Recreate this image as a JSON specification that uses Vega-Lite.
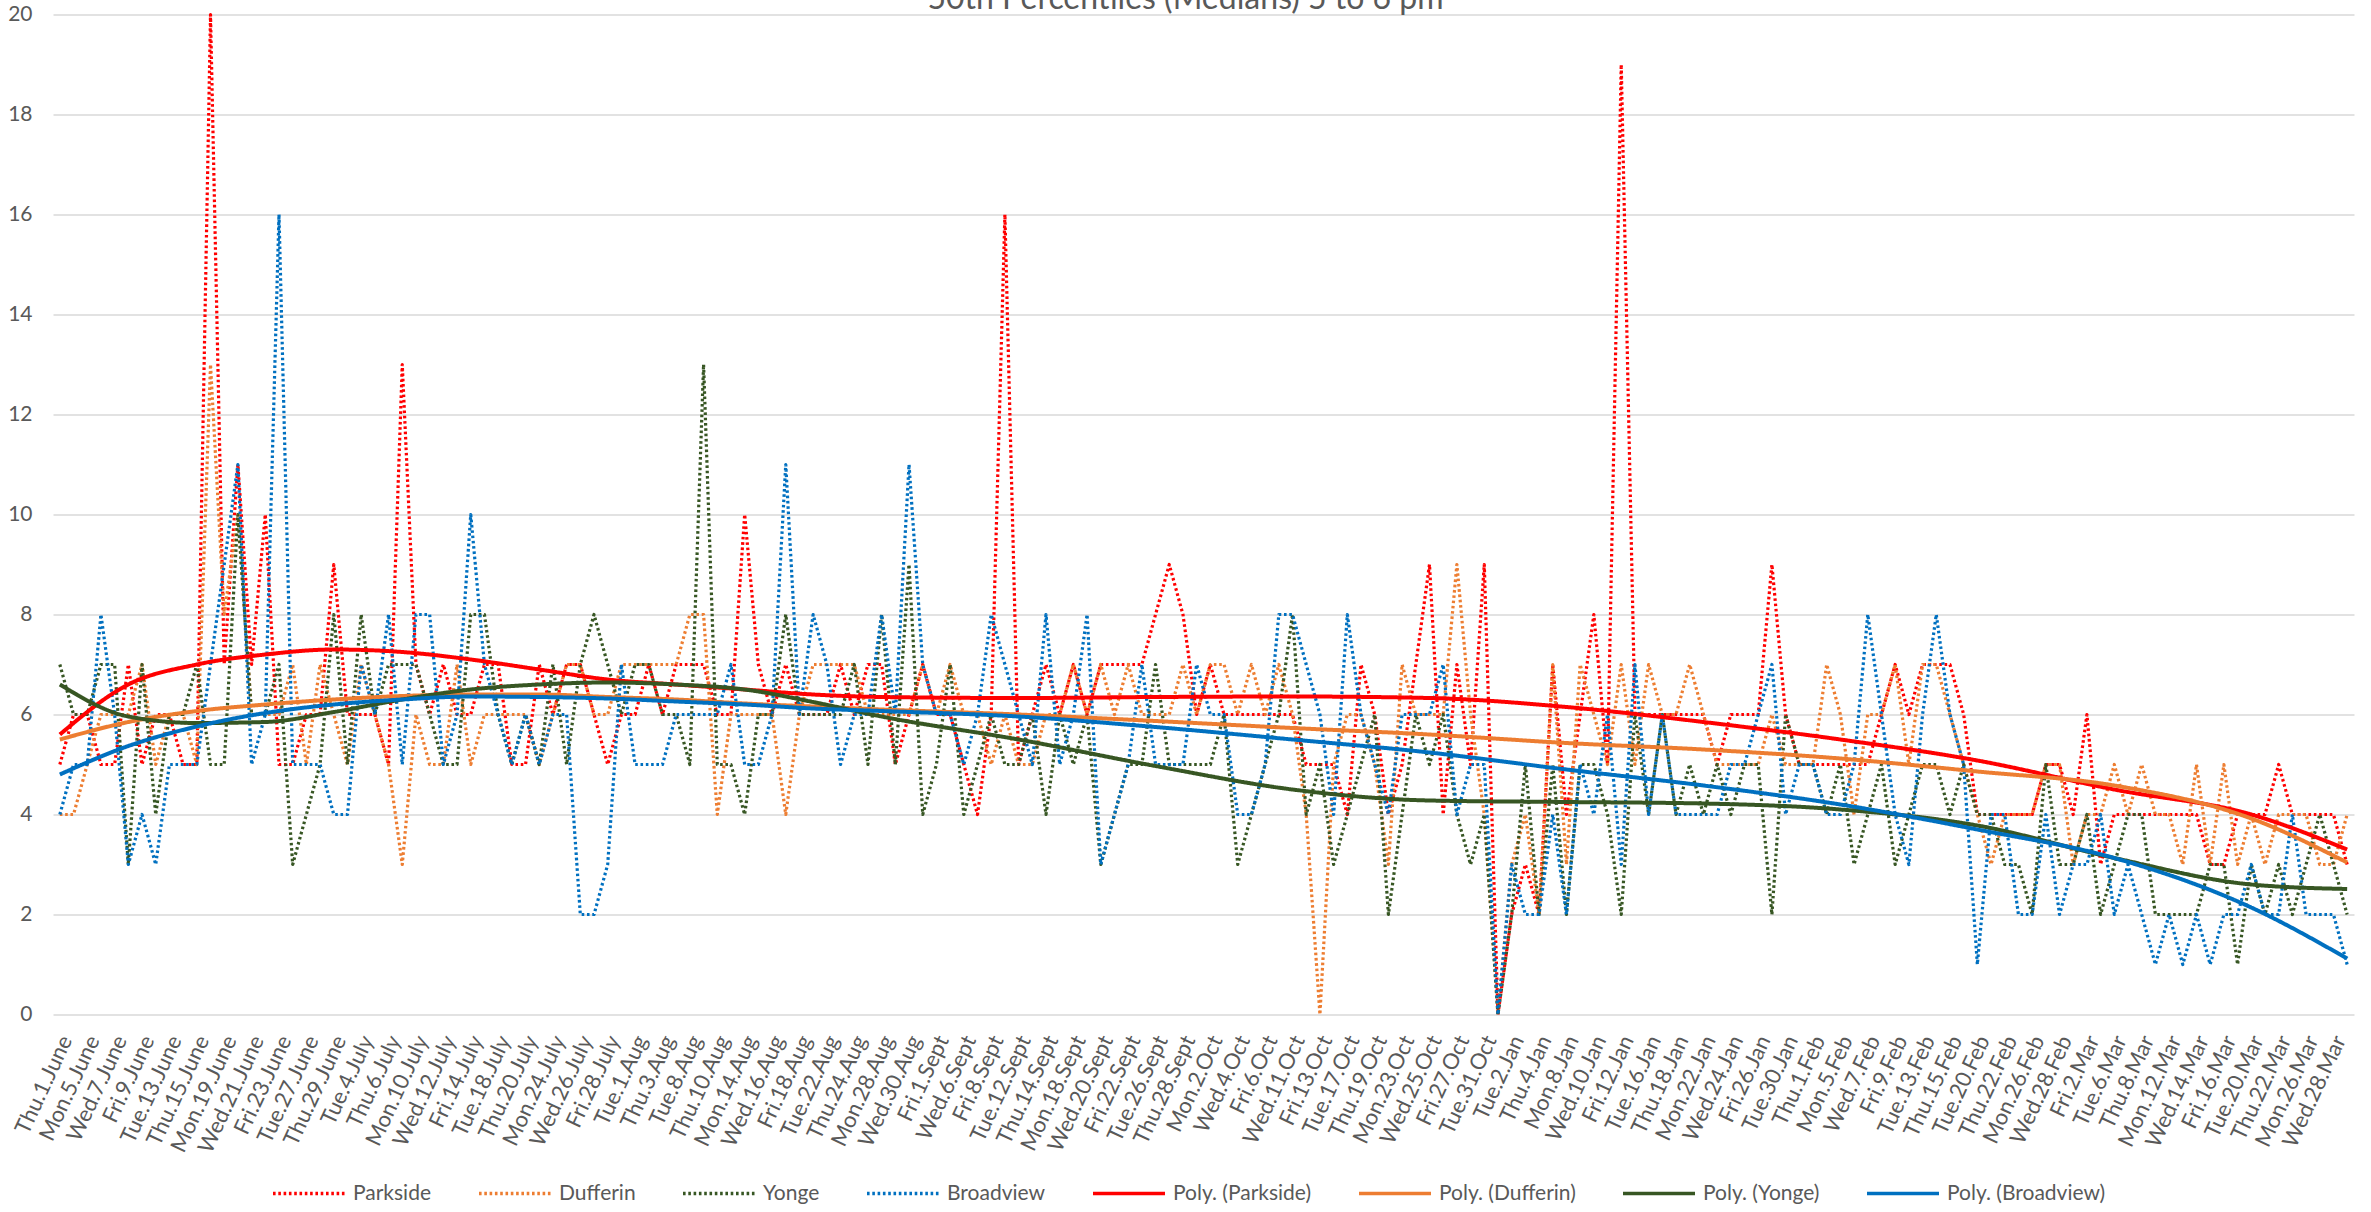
{
  "$schema": "https://vega.github.io/schema/vega-lite/v6.json",
  "width": 2301,
  "height": 1000,
  "autosize": {"type": "none"},
  "padding": {"left": 53, "top": 14.5, "right": 17, "bottom": 197.5},
  "title": {"text": "50th Percentiles (Medians) 5 to 6 pm", "fontSize": 32, "font": "Lato", "fontWeight": "normal", "color": "#595959", "offset": -12, "dx": -18},
  "config": {"view": {"stroke": null}, "font": "Lato"},
  "data": {"values": [
    {"d":"Thu.1.June","Parkside":5,"Dufferin":4,"Yonge":7,"Broadview":4,"tP":5.6,"tD":5.5,"tY":6.6,"tB":4.8},
    {"d":"Fri.2.June","Parkside":6,"Dufferin":4,"Yonge":6,"Broadview":5},
    {"d":"Mon.5.June","Parkside":6,"Dufferin":5,"Yonge":6,"Broadview":5},
    {"d":"Tue.6.June","Parkside":5,"Dufferin":6,"Yonge":7,"Broadview":8},
    {"d":"Wed.7.June","Parkside":5,"Dufferin":6,"Yonge":7,"Broadview":6},
    {"d":"Thu.8.June","Parkside":7,"Dufferin":6,"Yonge":3,"Broadview":3,"tP":6.6,"tD":5.85,"tY":5.96,"tB":5.37},
    {"d":"Fri.9.June","Parkside":5,"Dufferin":7,"Yonge":7,"Broadview":4},
    {"d":"Mon.12.June","Parkside":6,"Dufferin":5,"Yonge":4,"Broadview":3},
    {"d":"Tue.13.June","Parkside":6,"Dufferin":6,"Yonge":6,"Broadview":5},
    {"d":"Wed.14.June","Parkside":5,"Dufferin":6,"Yonge":6,"Broadview":5},
    {"d":"Thu.15.June","Parkside":5,"Dufferin":5,"Yonge":7,"Broadview":5,"tP":7.0,"tD":6.07,"tY":5.83,"tB":5.76},
    {"d":"Fri.16.June","Parkside":20,"Dufferin":13,"Yonge":5,"Broadview":7},
    {"d":"Mon.19.June","Parkside":7,"Dufferin":8,"Yonge":5,"Broadview":9},
    {"d":"Tue.20.June","Parkside":11,"Dufferin":10,"Yonge":10,"Broadview":11},
    {"d":"Wed.21.June","Parkside":7,"Dufferin":6,"Yonge":6,"Broadview":5},
    {"d":"Thu.22.June","Parkside":10,"Dufferin":6,"Yonge":6,"Broadview":6,"tP":7.2,"tD":6.2,"tY":5.85,"tB":6.03},
    {"d":"Fri.23.June","Parkside":5,"Dufferin":6,"Yonge":7,"Broadview":16},
    {"d":"Mon.26.June","Parkside":5,"Dufferin":7,"Yonge":3,"Broadview":5},
    {"d":"Tue.27.June","Parkside":6,"Dufferin":5,"Yonge":4,"Broadview":5},
    {"d":"Wed.28.June","Parkside":6,"Dufferin":7,"Yonge":5,"Broadview":5},
    {"d":"Thu.29.June","Parkside":9,"Dufferin":6,"Yonge":8,"Broadview":4,"tP":7.3,"tD":6.3,"tY":6.05,"tB":6.2},
    {"d":"Fri.30.June","Parkside":6,"Dufferin":5,"Yonge":5,"Broadview":4},
    {"d":"Tue.4.July","Parkside":6,"Dufferin":7,"Yonge":8,"Broadview":7},
    {"d":"Wed.5.July","Parkside":6,"Dufferin":6,"Yonge":6,"Broadview":6},
    {"d":"Thu.6.July","Parkside":5,"Dufferin":5,"Yonge":7,"Broadview":8},
    {"d":"Fri.7.July","Parkside":13,"Dufferin":3,"Yonge":7,"Broadview":5,"tP":7.25,"tD":6.37,"tY":6.3,"tB":6.3},
    {"d":"Mon.10.July","Parkside":7,"Dufferin":6,"Yonge":7,"Broadview":8},
    {"d":"Tue.11.July","Parkside":6,"Dufferin":5,"Yonge":6,"Broadview":8},
    {"d":"Wed.12.July","Parkside":7,"Dufferin":5,"Yonge":5,"Broadview":5},
    {"d":"Thu.13.July","Parkside":6,"Dufferin":7,"Yonge":5,"Broadview":6},
    {"d":"Fri.14.July","Parkside":6,"Dufferin":5,"Yonge":8,"Broadview":10,"tP":7.1,"tD":6.4,"tY":6.5,"tB":6.36},
    {"d":"Mon.17.July","Parkside":7,"Dufferin":6,"Yonge":8,"Broadview":7},
    {"d":"Tue.18.July","Parkside":7,"Dufferin":6,"Yonge":6,"Broadview":6},
    {"d":"Wed.19.July","Parkside":5,"Dufferin":6,"Yonge":5,"Broadview":5},
    {"d":"Thu.20.July","Parkside":5,"Dufferin":6,"Yonge":6,"Broadview":6},
    {"d":"Fri.21.July","Parkside":7,"Dufferin":5,"Yonge":5,"Broadview":5,"tP":6.9,"tD":6.4,"tY":6.6,"tB":6.35},
    {"d":"Mon.24.July","Parkside":6,"Dufferin":6,"Yonge":7,"Broadview":6},
    {"d":"Tue.25.July","Parkside":7,"Dufferin":7,"Yonge":5,"Broadview":6},
    {"d":"Wed.26.July","Parkside":7,"Dufferin":7,"Yonge":7,"Broadview":2},
    {"d":"Thu.27.July","Parkside":6,"Dufferin":6,"Yonge":8,"Broadview":2},
    {"d":"Fri.28.July","Parkside":5,"Dufferin":6,"Yonge":7,"Broadview":3,"tP":6.7,"tD":6.35,"tY":6.64,"tB":6.32},
    {"d":"Mon.31.July","Parkside":6,"Dufferin":7,"Yonge":6,"Broadview":7},
    {"d":"Tue.1.Aug","Parkside":6,"Dufferin":7,"Yonge":7,"Broadview":5},
    {"d":"Wed.2.Aug","Parkside":7,"Dufferin":7,"Yonge":7,"Broadview":5},
    {"d":"Thu.3.Aug","Parkside":6,"Dufferin":7,"Yonge":6,"Broadview":5},
    {"d":"Fri.4.Aug","Parkside":7,"Dufferin":7,"Yonge":6,"Broadview":6,"tP":6.6,"tD":6.3,"tY":6.6,"tB":6.26},
    {"d":"Tue.8.Aug","Parkside":7,"Dufferin":8,"Yonge":5,"Broadview":6},
    {"d":"Wed.9.Aug","Parkside":7,"Dufferin":8,"Yonge":13,"Broadview":6},
    {"d":"Thu.10.Aug","Parkside":6,"Dufferin":4,"Yonge":5,"Broadview":6},
    {"d":"Fri.11.Aug","Parkside":6,"Dufferin":6,"Yonge":5,"Broadview":7},
    {"d":"Mon.14.Aug","Parkside":10,"Dufferin":6,"Yonge":4,"Broadview":5,"tP":6.5,"tD":6.22,"tY":6.5,"tB":6.2},
    {"d":"Tue.15.Aug","Parkside":7,"Dufferin":6,"Yonge":6,"Broadview":5},
    {"d":"Wed.16.Aug","Parkside":6,"Dufferin":6,"Yonge":6,"Broadview":6},
    {"d":"Thu.17.Aug","Parkside":7,"Dufferin":4,"Yonge":8,"Broadview":11},
    {"d":"Fri.18.Aug","Parkside":6,"Dufferin":6,"Yonge":6,"Broadview":6},
    {"d":"Mon.21.Aug","Parkside":6,"Dufferin":7,"Yonge":6,"Broadview":8,"tP":6.4,"tD":6.16,"tY":6.25,"tB":6.12},
    {"d":"Tue.22.Aug","Parkside":6,"Dufferin":7,"Yonge":6,"Broadview":7},
    {"d":"Wed.23.Aug","Parkside":7,"Dufferin":7,"Yonge":6,"Broadview":5},
    {"d":"Thu.24.Aug","Parkside":6,"Dufferin":7,"Yonge":7,"Broadview":6},
    {"d":"Fri.25.Aug","Parkside":7,"Dufferin":6,"Yonge":5,"Broadview":6},
    {"d":"Mon.28.Aug","Parkside":7,"Dufferin":6,"Yonge":8,"Broadview":8,"tP":6.35,"tD":6.1,"tY":5.96,"tB":6.07},
    {"d":"Tue.29.Aug","Parkside":5,"Dufferin":6,"Yonge":5,"Broadview":6},
    {"d":"Wed.30.Aug","Parkside":6,"Dufferin":6,"Yonge":9,"Broadview":11},
    {"d":"Thu.31.Aug","Parkside":7,"Dufferin":7,"Yonge":4,"Broadview":7},
    {"d":"Fri.1.Sept","Parkside":6,"Dufferin":6,"Yonge":5,"Broadview":6},
    {"d":"Tue.5.Sept","Parkside":6,"Dufferin":7,"Yonge":7,"Broadview":6},
    {"d":"Wed.6.Sept","Parkside":5,"Dufferin":6,"Yonge":4,"Broadview":5},
    {"d":"Thu.7.Sept","Parkside":4,"Dufferin":6,"Yonge":5,"Broadview":6},
    {"d":"Fri.8.Sept","Parkside":6,"Dufferin":5,"Yonge":6,"Broadview":8},
    {"d":"Mon.11.Sept","Parkside":16,"Dufferin":6,"Yonge":5,"Broadview":7},
    {"d":"Tue.12.Sept","Parkside":5,"Dufferin":5,"Yonge":5,"Broadview":6,"tP":6.33,"tD":6.0,"tY":5.5,"tB":5.96},
    {"d":"Wed.13.Sept","Parkside":6,"Dufferin":5,"Yonge":6,"Broadview":5},
    {"d":"Thu.14.Sept","Parkside":7,"Dufferin":6,"Yonge":4,"Broadview":8},
    {"d":"Fri.15.Sept","Parkside":6,"Dufferin":6,"Yonge":6,"Broadview":5},
    {"d":"Mon.18.Sept","Parkside":7,"Dufferin":7,"Yonge":5,"Broadview":6},
    {"d":"Tue.19.Sept","Parkside":6,"Dufferin":6,"Yonge":6,"Broadview":8},
    {"d":"Wed.20.Sept","Parkside":7,"Dufferin":7,"Yonge":3,"Broadview":3},
    {"d":"Thu.21.Sept","Parkside":7,"Dufferin":6,"Yonge":4,"Broadview":4},
    {"d":"Fri.22.Sept","Parkside":7,"Dufferin":7,"Yonge":5,"Broadview":5},
    {"d":"Mon.25.Sept","Parkside":7,"Dufferin":6,"Yonge":5,"Broadview":7},
    {"d":"Tue.26.Sept","Parkside":8,"Dufferin":6,"Yonge":7,"Broadview":5,"tP":6.35,"tD":5.87,"tY":4.97,"tB":5.75},
    {"d":"Wed.27.Sept","Parkside":9,"Dufferin":6,"Yonge":5,"Broadview":5},
    {"d":"Thu.28.Sept","Parkside":8,"Dufferin":7,"Yonge":5,"Broadview":5},
    {"d":"Fri.29.Sept","Parkside":6,"Dufferin":6,"Yonge":5,"Broadview":7},
    {"d":"Mon.2.Oct","Parkside":7,"Dufferin":7,"Yonge":5,"Broadview":6},
    {"d":"Tue.3.Oct","Parkside":6,"Dufferin":7,"Yonge":6,"Broadview":6},
    {"d":"Wed.4.Oct","Parkside":6,"Dufferin":6,"Yonge":3,"Broadview":4},
    {"d":"Thu.5.Oct","Parkside":6,"Dufferin":7,"Yonge":4,"Broadview":4},
    {"d":"Fri.6.Oct","Parkside":6,"Dufferin":6,"Yonge":5,"Broadview":5},
    {"d":"Tue.10.Oct","Parkside":6,"Dufferin":7,"Yonge":6,"Broadview":8},
    {"d":"Wed.11.Oct","Parkside":6,"Dufferin":6,"Yonge":8,"Broadview":8,"tP":6.36,"tD":5.73,"tY":4.5,"tB":5.5},
    {"d":"Thu.12.Oct","Parkside":5,"Dufferin":4,"Yonge":4,"Broadview":7},
    {"d":"Fri.13.Oct","Parkside":5,"Dufferin":0,"Yonge":5,"Broadview":6},
    {"d":"Mon.16.Oct","Parkside":5,"Dufferin":5,"Yonge":3,"Broadview":4},
    {"d":"Tue.17.Oct","Parkside":4,"Dufferin":6,"Yonge":4,"Broadview":8},
    {"d":"Wed.18.Oct","Parkside":7,"Dufferin":6,"Yonge":5,"Broadview":6},
    {"d":"Thu.19.Oct","Parkside":6,"Dufferin":5,"Yonge":6,"Broadview":5},
    {"d":"Fri.20.Oct","Parkside":4,"Dufferin":3,"Yonge":2,"Broadview":4},
    {"d":"Mon.23.Oct","Parkside":5,"Dufferin":7,"Yonge":4,"Broadview":6},
    {"d":"Tue.24.Oct","Parkside":7,"Dufferin":6,"Yonge":6,"Broadview":6},
    {"d":"Wed.25.Oct","Parkside":9,"Dufferin":6,"Yonge":5,"Broadview":6,"tP":6.33,"tD":5.6,"tY":4.28,"tB":5.24},
    {"d":"Thu.26.Oct","Parkside":4,"Dufferin":6,"Yonge":6,"Broadview":7},
    {"d":"Fri.27.Oct","Parkside":7,"Dufferin":9,"Yonge":4,"Broadview":4},
    {"d":"Mon.30.Oct","Parkside":5,"Dufferin":6,"Yonge":3,"Broadview":5},
    {"d":"Tue.31.Oct","Parkside":9,"Dufferin":4,"Yonge":4,"Broadview":5},
    {"d":"Mon.1.Jan","Parkside":0,"Dufferin":0,"Yonge":0,"Broadview":0},
    {"d":"Tue.2.Jan","Parkside":2,"Dufferin":3,"Yonge":2,"Broadview":3},
    {"d":"Wed.3.Jan","Parkside":3,"Dufferin":4,"Yonge":5,"Broadview":2},
    {"d":"Thu.4.Jan","Parkside":2,"Dufferin":2,"Yonge":2,"Broadview":2},
    {"d":"Fri.5.Jan","Parkside":7,"Dufferin":7,"Yonge":5,"Broadview":4},
    {"d":"Mon.8.Jan","Parkside":4,"Dufferin":3,"Yonge":2,"Broadview":2,"tP":6.15,"tD":5.43,"tY":4.25,"tB":4.9},
    {"d":"Tue.9.Jan","Parkside":6,"Dufferin":7,"Yonge":5,"Broadview":5},
    {"d":"Wed.10.Jan","Parkside":8,"Dufferin":6,"Yonge":5,"Broadview":4},
    {"d":"Thu.11.Jan","Parkside":5,"Dufferin":5,"Yonge":4,"Broadview":6},
    {"d":"Fri.12.Jan","Parkside":19,"Dufferin":7,"Yonge":2,"Broadview":3},
    {"d":"Mon.15.Jan","Parkside":6,"Dufferin":5,"Yonge":6,"Broadview":7},
    {"d":"Tue.16.Jan","Parkside":6,"Dufferin":7,"Yonge":4,"Broadview":4},
    {"d":"Wed.17.Jan","Parkside":6,"Dufferin":6,"Yonge":6,"Broadview":6},
    {"d":"Thu.18.Jan","Parkside":6,"Dufferin":6,"Yonge":4,"Broadview":4},
    {"d":"Fri.19.Jan","Parkside":6,"Dufferin":7,"Yonge":5,"Broadview":4},
    {"d":"Mon.22.Jan","Parkside":6,"Dufferin":6,"Yonge":4,"Broadview":4,"tP":5.85,"tD":5.3,"tY":4.22,"tB":4.58},
    {"d":"Tue.23.Jan","Parkside":5,"Dufferin":5,"Yonge":5,"Broadview":4},
    {"d":"Wed.24.Jan","Parkside":6,"Dufferin":5,"Yonge":4,"Broadview":5},
    {"d":"Thu.25.Jan","Parkside":6,"Dufferin":5,"Yonge":5,"Broadview":5},
    {"d":"Fri.26.Jan","Parkside":6,"Dufferin":5,"Yonge":5,"Broadview":6},
    {"d":"Mon.29.Jan","Parkside":9,"Dufferin":6,"Yonge":2,"Broadview":7},
    {"d":"Tue.30.Jan","Parkside":6,"Dufferin":5,"Yonge":6,"Broadview":4},
    {"d":"Wed.31.Jan","Parkside":5,"Dufferin":5,"Yonge":5,"Broadview":5},
    {"d":"Thu.1.Feb","Parkside":5,"Dufferin":5,"Yonge":5,"Broadview":5},
    {"d":"Fri.2.Feb","Parkside":5,"Dufferin":7,"Yonge":4,"Broadview":4},
    {"d":"Mon.5.Feb","Parkside":5,"Dufferin":6,"Yonge":5,"Broadview":4,"tP":5.5,"tD":5.12,"tY":4.1,"tB":4.2},
    {"d":"Tue.6.Feb","Parkside":5,"Dufferin":4,"Yonge":3,"Broadview":5},
    {"d":"Wed.7.Feb","Parkside":5,"Dufferin":6,"Yonge":4,"Broadview":8},
    {"d":"Thu.8.Feb","Parkside":6,"Dufferin":6,"Yonge":5,"Broadview":6},
    {"d":"Fri.9.Feb","Parkside":7,"Dufferin":7,"Yonge":3,"Broadview":4},
    {"d":"Mon.12.Feb","Parkside":6,"Dufferin":5,"Yonge":4,"Broadview":3},
    {"d":"Tue.13.Feb","Parkside":7,"Dufferin":7,"Yonge":5,"Broadview":6},
    {"d":"Wed.14.Feb","Parkside":7,"Dufferin":7,"Yonge":5,"Broadview":8},
    {"d":"Thu.15.Feb","Parkside":7,"Dufferin":6,"Yonge":4,"Broadview":6},
    {"d":"Fri.16.Feb","Parkside":6,"Dufferin":5,"Yonge":5,"Broadview":5},
    {"d":"Tue.20.Feb","Parkside":4,"Dufferin":4,"Yonge":4,"Broadview":1,"tP":5.08,"tD":4.86,"tY":3.78,"tB":3.7},
    {"d":"Wed.21.Feb","Parkside":4,"Dufferin":3,"Yonge":4,"Broadview":4},
    {"d":"Thu.22.Feb","Parkside":4,"Dufferin":4,"Yonge":3,"Broadview":4},
    {"d":"Fri.23.Feb","Parkside":4,"Dufferin":4,"Yonge":3,"Broadview":2},
    {"d":"Mon.26.Feb","Parkside":4,"Dufferin":4,"Yonge":2,"Broadview":2},
    {"d":"Tue.27.Feb","Parkside":5,"Dufferin":5,"Yonge":5,"Broadview":4},
    {"d":"Wed.28.Feb","Parkside":5,"Dufferin":5,"Yonge":3,"Broadview":2},
    {"d":"Thu.1.Mar","Parkside":4,"Dufferin":3,"Yonge":3,"Broadview":3},
    {"d":"Fri.2.Mar","Parkside":6,"Dufferin":4,"Yonge":4,"Broadview":3},
    {"d":"Mon.5.Mar","Parkside":3,"Dufferin":4,"Yonge":2,"Broadview":4},
    {"d":"Tue.6.Mar","Parkside":4,"Dufferin":5,"Yonge":3,"Broadview":2,"tP":4.5,"tD":4.58,"tY":3.13,"tB":3.13},
    {"d":"Wed.7.Mar","Parkside":4,"Dufferin":4,"Yonge":4,"Broadview":3},
    {"d":"Thu.8.Mar","Parkside":4,"Dufferin":5,"Yonge":4,"Broadview":2},
    {"d":"Fri.9.Mar","Parkside":4,"Dufferin":4,"Yonge":2,"Broadview":1},
    {"d":"Mon.12.Mar","Parkside":4,"Dufferin":4,"Yonge":2,"Broadview":2},
    {"d":"Tue.13.Mar","Parkside":4,"Dufferin":3,"Yonge":2,"Broadview":1},
    {"d":"Wed.14.Mar","Parkside":4,"Dufferin":5,"Yonge":2,"Broadview":2},
    {"d":"Thu.15.Mar","Parkside":3,"Dufferin":3,"Yonge":3,"Broadview":1},
    {"d":"Fri.16.Mar","Parkside":3,"Dufferin":5,"Yonge":3,"Broadview":2},
    {"d":"Mon.19.Mar","Parkside":4,"Dufferin":3,"Yonge":1,"Broadview":2},
    {"d":"Tue.20.Mar","Parkside":4,"Dufferin":4,"Yonge":3,"Broadview":3,"tP":4.0,"tD":3.92,"tY":2.6,"tB":2.14},
    {"d":"Wed.21.Mar","Parkside":4,"Dufferin":3,"Yonge":2,"Broadview":2},
    {"d":"Thu.22.Mar","Parkside":5,"Dufferin":4,"Yonge":3,"Broadview":2},
    {"d":"Fri.23.Mar","Parkside":4,"Dufferin":4,"Yonge":2,"Broadview":4},
    {"d":"Mon.26.Mar","Parkside":4,"Dufferin":4,"Yonge":3,"Broadview":2},
    {"d":"Tue.27.Mar","Parkside":4,"Dufferin":3,"Yonge":4,"Broadview":2},
    {"d":"Wed.28.Mar","Parkside":4,"Dufferin":3,"Yonge":3,"Broadview":2},
    {"d":"Thu.29.Mar","Parkside":3,"Dufferin":4,"Yonge":2,"Broadview":1,"tP":3.3,"tD":3.04,"tY":2.51,"tB":1.12}
  ]},
  "transform": [
    {"fold": ["Parkside", "Dufferin", "Yonge", "Broadview", "tP", "tD", "tY", "tB"], "as": ["s", "v"]},
    {"filter": "isValid(datum.v)"}
  ],
  "encoding": {
    "x": {
      "field": "d", "type": "ordinal", "sort": null, "title": null,
      "scale": {"type": "point", "padding": 0.5, "domain": ["Thu.1.June","Fri.2.June","Mon.5.June","Tue.6.June","Wed.7.June","Thu.8.June","Fri.9.June","Mon.12.June","Tue.13.June","Wed.14.June","Thu.15.June","Fri.16.June","Mon.19.June","Tue.20.June","Wed.21.June","Thu.22.June","Fri.23.June","Mon.26.June","Tue.27.June","Wed.28.June","Thu.29.June","Fri.30.June","Tue.4.July","Wed.5.July","Thu.6.July","Fri.7.July","Mon.10.July","Tue.11.July","Wed.12.July","Thu.13.July","Fri.14.July","Mon.17.July","Tue.18.July","Wed.19.July","Thu.20.July","Fri.21.July","Mon.24.July","Tue.25.July","Wed.26.July","Thu.27.July","Fri.28.July","Mon.31.July","Tue.1.Aug","Wed.2.Aug","Thu.3.Aug","Fri.4.Aug","Tue.8.Aug","Wed.9.Aug","Thu.10.Aug","Fri.11.Aug","Mon.14.Aug","Tue.15.Aug","Wed.16.Aug","Thu.17.Aug","Fri.18.Aug","Mon.21.Aug","Tue.22.Aug","Wed.23.Aug","Thu.24.Aug","Fri.25.Aug","Mon.28.Aug","Tue.29.Aug","Wed.30.Aug","Thu.31.Aug","Fri.1.Sept","Tue.5.Sept","Wed.6.Sept","Thu.7.Sept","Fri.8.Sept","Mon.11.Sept","Tue.12.Sept","Wed.13.Sept","Thu.14.Sept","Fri.15.Sept","Mon.18.Sept","Tue.19.Sept","Wed.20.Sept","Thu.21.Sept","Fri.22.Sept","Mon.25.Sept","Tue.26.Sept","Wed.27.Sept","Thu.28.Sept","Fri.29.Sept","Mon.2.Oct","Tue.3.Oct","Wed.4.Oct","Thu.5.Oct","Fri.6.Oct","Tue.10.Oct","Wed.11.Oct","Thu.12.Oct","Fri.13.Oct","Mon.16.Oct","Tue.17.Oct","Wed.18.Oct","Thu.19.Oct","Fri.20.Oct","Mon.23.Oct","Tue.24.Oct","Wed.25.Oct","Thu.26.Oct","Fri.27.Oct","Mon.30.Oct","Tue.31.Oct","Mon.1.Jan","Tue.2.Jan","Wed.3.Jan","Thu.4.Jan","Fri.5.Jan","Mon.8.Jan","Tue.9.Jan","Wed.10.Jan","Thu.11.Jan","Fri.12.Jan","Mon.15.Jan","Tue.16.Jan","Wed.17.Jan","Thu.18.Jan","Fri.19.Jan","Mon.22.Jan","Tue.23.Jan","Wed.24.Jan","Thu.25.Jan","Fri.26.Jan","Mon.29.Jan","Tue.30.Jan","Wed.31.Jan","Thu.1.Feb","Fri.2.Feb","Mon.5.Feb","Tue.6.Feb","Wed.7.Feb","Thu.8.Feb","Fri.9.Feb","Mon.12.Feb","Tue.13.Feb","Wed.14.Feb","Thu.15.Feb","Fri.16.Feb","Tue.20.Feb","Wed.21.Feb","Thu.22.Feb","Fri.23.Feb","Mon.26.Feb","Tue.27.Feb","Wed.28.Feb","Thu.1.Mar","Fri.2.Mar","Mon.5.Mar","Tue.6.Mar","Wed.7.Mar","Thu.8.Mar","Fri.9.Mar","Mon.12.Mar","Tue.13.Mar","Wed.14.Mar","Thu.15.Mar","Fri.16.Mar","Mon.19.Mar","Tue.20.Mar","Wed.21.Mar","Thu.22.Mar","Fri.23.Mar","Mon.26.Mar","Tue.27.Mar","Wed.28.Mar","Thu.29.Mar"]},
      "axis": {
        "values": ["Thu.1.June","Mon.5.June","Wed.7.June","Fri.9.June","Tue.13.June","Thu.15.June","Mon.19.June","Wed.21.June","Fri.23.June","Tue.27.June","Thu.29.June","Tue.4.July","Thu.6.July","Mon.10.July","Wed.12.July","Fri.14.July","Tue.18.July","Thu.20.July","Mon.24.July","Wed.26.July","Fri.28.July","Tue.1.Aug","Thu.3.Aug","Tue.8.Aug","Thu.10.Aug","Mon.14.Aug","Wed.16.Aug","Fri.18.Aug","Tue.22.Aug","Thu.24.Aug","Mon.28.Aug","Wed.30.Aug","Fri.1.Sept","Wed.6.Sept","Fri.8.Sept","Tue.12.Sept","Thu.14.Sept","Mon.18.Sept","Wed.20.Sept","Fri.22.Sept","Tue.26.Sept","Thu.28.Sept","Mon.2.Oct","Wed.4.Oct","Fri.6.Oct","Wed.11.Oct","Fri.13.Oct","Tue.17.Oct","Thu.19.Oct","Mon.23.Oct","Wed.25.Oct","Fri.27.Oct","Tue.31.Oct","Tue.2.Jan","Thu.4.Jan","Mon.8.Jan","Wed.10.Jan","Fri.12.Jan","Tue.16.Jan","Thu.18.Jan","Mon.22.Jan","Wed.24.Jan","Fri.26.Jan","Tue.30.Jan","Thu.1.Feb","Mon.5.Feb","Wed.7.Feb","Fri.9.Feb","Tue.13.Feb","Thu.15.Feb","Tue.20.Feb","Thu.22.Feb","Mon.26.Feb","Wed.28.Feb","Fri.2.Mar","Tue.6.Mar","Thu.8.Mar","Mon.12.Mar","Wed.14.Mar","Fri.16.Mar","Tue.20.Mar","Thu.22.Mar","Mon.26.Mar","Wed.28.Mar"],
        "labelAngle": -65, "labelAlign": "right", "labelBaseline": "middle", "labelFontSize": 22, "labelColor": "#595959", "labelPadding": 22, "labelOffset": 6, "labelOverlap": false, "labelBound": false,
        "domain": false, "ticks": false, "grid": false
      }
    },
    "y": {
      "field": "v", "type": "quantitative", "title": null,
      "scale": {"domain": [0, 20], "nice": false, "zero": true},
      "axis": {"values": [0,2,4,6,8,10,12,14,16,18,20], "labelFontSize": 21, "labelColor": "#595959", "labelPadding": 21, "domain": false, "ticks": false, "grid": true, "gridColor": "#D9D9D9", "gridWidth": 1.5}
    },
    "color": {
      "field": "s", "type": "nominal",
      "scale": {"domain": ["Parkside","Dufferin","Yonge","Broadview","tP","tD","tY","tB"], "range": ["#FF0000","#ED7D31","#375623","#0070C0","#FF0000","#ED7D31","#375623","#0070C0"]},
      "legend": {
        "orient": "none", "legendX": 218, "legendY": 1141, "direction": "horizontal", "title": null,
        "symbolType": "stroke", "symbolSize": 5184, "symbolStrokeWidth": 3.5,
        "labelFontSize": 21, "labelColor": "#595959", "labelLimit": 400, "labelOffset": 6, "columnPadding": 40,
        "labelExpr": "datum.label == 'tP' ? 'Poly. (Parkside)' : datum.label == 'tD' ? 'Poly. (Dufferin)' : datum.label == 'tY' ? 'Poly. (Yonge)' : datum.label == 'tB' ? 'Poly. (Broadview)' : datum.label"
      }
    },
    "strokeDash": {
      "field": "s", "type": "nominal",
      "scale": {"domain": ["Parkside","Dufferin","Yonge","Broadview","tP","tD","tY","tB"], "range": [[2.6,2.7],[2.6,2.7],[2.6,2.7],[2.6,2.7],[1,0],[1,0],[1,0],[1,0]]},
      "legend": {
        "orient": "none", "legendX": 218, "legendY": 1141, "direction": "horizontal", "title": null,
        "symbolType": "stroke", "symbolSize": 5184, "symbolStrokeWidth": 3.5,
        "labelFontSize": 21, "labelColor": "#595959", "labelLimit": 400, "labelOffset": 6, "columnPadding": 40,
        "labelExpr": "datum.label == 'tP' ? 'Poly. (Parkside)' : datum.label == 'tD' ? 'Poly. (Dufferin)' : datum.label == 'tY' ? 'Poly. (Yonge)' : datum.label == 'tB' ? 'Poly. (Broadview)' : datum.label"
      }
    }
  },
  "layer": [
    {
      "transform": [{"filter": "indexof(['Parkside','Dufferin','Yonge','Broadview'], datum.s) >= 0"}],
      "mark": {"type": "line", "strokeWidth": 3.2, "strokeCap": "butt", "strokeJoin": "round", "interpolate": "linear"}
    },
    {
      "transform": [{"filter": "indexof(['tP','tD','tY','tB'], datum.s) >= 0"}],
      "mark": {"type": "line", "strokeWidth": 4, "strokeCap": "butt", "interpolate": "monotone"}
    }
  ]
}
